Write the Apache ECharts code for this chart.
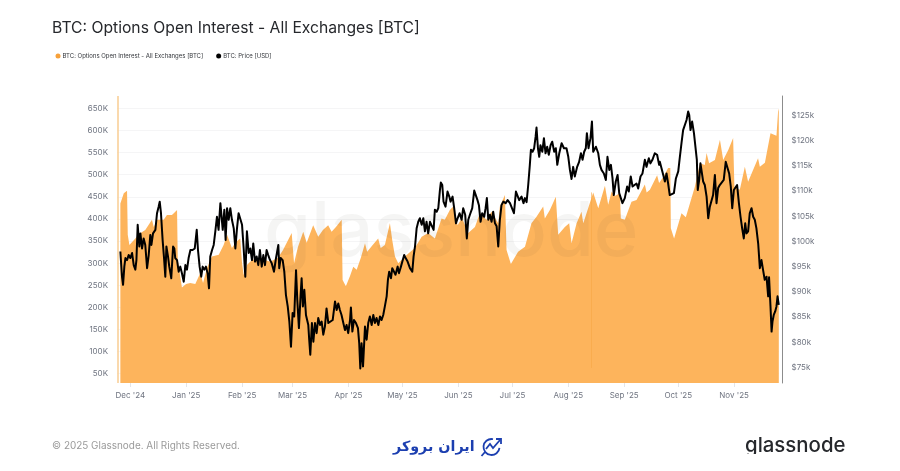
<!DOCTYPE html>
<html><head><meta charset="utf-8">
<script src="https://cdn.jsdelivr.net/npm/echarts@6/dist/echarts.min.js"></script>
<style>html,body{margin:0;padding:0;background:#fff}#c{width:900px;height:471px}</style>
</head><body><div id="c"></div>
<script>
const titleText = "BTC: Options Open Interest - All Exchanges [BTC]";
const oiName = "BTC: Options Open Interest - All Exchanges [BTC]";
const priceName = "BTC: Price [USD]";
const monthDays = [7,38,69,97,128,158,189,219,250,281,311,342];
const monthLabels = ["Dec '24","Jan '25","Feb '25","Mar '25","Apr '25","May '25","Jun '25","Jul '25","Aug '25","Sep '25","Oct '25","Nov '25"];
const oiTicks = [50,100,150,200,250,300,350,400,450,500,550,600,650];
const priceTicks = [75,80,85,90,95,100,105,110,115,120,125];

// days since 24 Nov 2024, open interest in thousands of BTC
const oiDays = [1.3,3.2,5,5.4,6.3,9.6,11.6,15.1,18.8,19.8,21.6,25.3,27.1,29.9,32.7,33.1,35.4,37.7,40,42.8,45.6,47.1,49.3,52,55.8,58.5,60.4,63.1,65.3,67.7,68.7,69.6,71.4,74.2,78.6,84.2,88.6,91.4,96.2,97.5,99.7,102.6,104.5,108.1,110.9,113.5,116.4,118.3,120.7,123.9,124.4,126.2,128.5,130.3,132.2,134.5,136.8,138,140.6,144.1,145.5,147.8,150.6,151.9,153.4,155.2,158.9,164.4,168.2,171.8,175.5,179.2,181,183.8,185.7,188.1,190.5,194,197.7,200.4,204.1,206.9,210.6,211.5,214.3,215.2,217.6,221.6,225.4,229,231.8,235.5,236.4,239.2,242.5,243.8,247.5,249.9,251.2,254,256.7,257.7,260.4,263.2,266,269.7,271.5,273.4,275.2,278,278.5,280.7,284.4,287.2,291.8,292.8,294.6,298.6,299.7,302.3,304.7,305.9,306.2,308,312.1,314.5,319.5,322.3,325,326,327.4,330.6,333.4,335.2,338,340.7,341.4,344.4,347.2,349,354.5,355.5,358.3,361.4,364.7,365.6,366];
const oiValues = [435,458,464,364,341,356,366,375,398,382,398,398,409,409,420,307,245,253,255,253,278,255,289,315,319,341,364,334,348,356,300,273,296,307,312,303,312,330,368,300,337,371,346,386,360,375,386,371,382,398,262,248,271,292,285,312,345,326,339,356,334,341,390,352,315,300,315,334,360,368,356,401,398,420,428,386,402,368,382,413,398,416,390,428,454,330,298,326,337,390,405,428,401,420,450,364,382,390,345,390,416,390,424,460,424,475,432,462,452,458,401,398,439,443,478,460,466,499,481,497,515,515,379,356,413,404,473,526,522,549,526,533,579,533,556,583,473,466,518,484,537,518,527,594,588,643,650];
// thin one-off readings: [day, low, high]
const oiStartSpike = [-0.15,29,678];
const oiGlitch = [261.9,63,460];

// days since 24 Nov 2024, price in thousands of USD
const priceDays = [1.3,2.2,2.8,3.5,4.1,5,5.9,6.8,7.8,8.7,9.6,10.2,10.9,11.8,12.4,13.3,14.2,15.1,16.1,17,17.9,18.5,19.4,20.7,21.6,22.5,23.1,23.8,24.7,25.5,26.2,26.8,27.7,28.4,29.5,30.5,31.2,31.7,32.7,33.6,34.5,35.4,36.4,37.3,38.2,39.1,40.1,41.3,42.5,43.6,44.3,45.2,46.1,46.9,47.8,48.7,49.6,50.4,51.1,52.1,53,53.9,54.8,55.7,56.7,57.2,58,58.9,59.6,60.4,61.3,62.2,63.1,64.1,65,65.9,66.8,67.7,68.7,69.6,70.5,71.4,72.4,73.3,74.2,74.9,75.9,76.8,77.7,78.6,79.6,80.5,81.4,82.3,83.2,84.2,85.1,86.4,87.5,88.8,89.3,90.1,91.2,92.1,93,94,94.9,95.8,96.7,97.6,98.6,99.3,100.2,101.1,101.7,102.4,103.2,104.1,105.4,105.9,106.5,107.4,108.2,109.1,110,110.9,111.9,112.8,113.7,114.6,115.5,116.5,117.4,118.9,120.2,121.1,122,122.9,123.8,124.8,125.7,126.6,127.5,128.5,129,129.8,130.7,131.8,132.9,133.6,134.2,134.9,135.7,136.8,137.7,138.6,139.5,140.5,141.4,142.3,143.2,144.2,145.1,146,146.9,147.8,148.8,149.5,150.2,151.2,151.9,153,153.7,154.9,155.6,156.7,157.4,158.5,159.3,160.4,161.7,163,163.7,164.5,165.4,166.3,167.2,168.2,169.1,170,170.9,171.8,172.8,173.7,174.8,175.5,176.5,177.4,178.3,178.8,179.6,180.3,181.4,182.5,183.5,184.2,185.3,186.2,187.2,188.1,189.2,190.3,191.2,192.3,193.2,194,194.9,196.2,197.3,198.2,199.1,199.9,200.8,201.7,202.8,203.6,204.3,205.1,206,206.9,207.8,208.8,209.7,210.6,211.5,212.4,213.4,214.7,215.8,217.1,218,219.3,220.4,221.1,222.2,223.5,224.6,225.4,226.3,227.2,228.1,228.7,229.6,230.5,231.3,231.8,232.6,233.3,234,235,235.9,236.8,237.7,238.6,239.6,240.5,241.6,242.5,243.3,244.4,245.7,247,248.4,249.4,250.3,251.2,252.1,253,254.3,255.4,256.4,257.3,258.2,259.1,259.7,260.6,261.7,262.5,263.2,264.7,266,266.9,267.8,269.1,270.2,271.1,272.1,273,273.9,274.6,275.7,276.7,277.6,278.5,279.4,280.7,282,282.9,284,285,285.9,287.2,288.1,289.4,290.5,291.8,292.7,294,294.9,296,297.3,298.6,299.7,300.1,301,302,302.9,303.8,304.7,305.6,306.6,307.9,309,310.3,311.2,312.1,313,314,314.9,315.8,316.4,317.1,318,319,319.9,320.6,321.1,321.9,322.6,323.4,324.1,325,326,326.9,327.8,328.7,329.6,330.6,331.5,332.4,333.3,334.2,335.5,336.6,337.6,338.5,339.4,340.2,341.1,342.2,342.9,343.9,344.8,345.7,346.6,347.4,348.1,349,349.9,350.9,351.8,352.7,353.6,354.6,355.5,356.4,357.3,358.2,359.2,360.1,360.6,361.4,362,362.5,363.2,364,364.7,365.3,366];
const priceValues = [98,93,91.4,95,96.7,96.3,97.3,96.7,97.7,95.3,94.4,96.3,103.3,99,101.6,98.6,100.6,99.3,94.7,97.3,101.3,99.3,101.6,102.3,105.6,106.9,107.9,105.6,100.3,96.7,93,99,97,95,92.7,99,98.6,96.7,96.3,94,95,93.7,92,95.3,94.4,96.7,98.3,98.3,98.6,102.3,98.3,95,93,95,94.4,95,93.7,90.7,97,98.3,99.3,102,104.9,102.3,107.6,107.9,102.3,106.3,100.3,106.6,104.3,106.6,104.3,102.6,98.6,102.6,105.6,105.9,103.3,98.6,93,102,97.7,98.6,96.3,99.6,96,97,95.3,98.3,95,97.3,95.3,98.3,97.3,96.3,95.7,94,96.7,99.3,94.7,96.7,96.3,94,89.4,87.1,84.1,79.1,85.8,85.1,94.3,88.4,82.8,89.1,92.7,87.1,90.4,85.4,83.4,80.5,77.5,83.8,80.1,83.8,81.8,84.8,83.4,84.1,81.5,83.1,86.7,83.8,84.1,84.4,88.1,86.4,87.7,86.4,85.4,83.8,82.4,83.4,81.8,84.4,86.9,82.1,84.4,83.8,82.8,79.8,74.8,79.8,75.2,83.1,80.5,83.8,85.1,83.4,85.4,83.8,84.8,83.4,85.1,84.4,85.4,87.1,89.1,92.4,94,92.7,94.7,94.4,93.4,95,93.7,95,95.3,97.3,96.7,96,94.7,94,97,99,102.6,103.9,104.6,103.3,104.6,102,103.9,101.6,103.9,103.6,102.3,106.3,105.9,106.6,110.2,111.7,111.2,107.9,106.9,109.9,108.9,107.9,108.9,106.6,103.6,104.6,105.6,104.3,106.6,105.3,100.6,104.3,105.3,106.6,110.1,110.2,108.2,107.2,103.9,105.6,104.9,106.6,108.6,104.3,105.3,103.9,105.9,103.6,103,99,104.3,107.2,107.9,107.6,108.2,107.6,107.9,105.6,109.9,110.2,108.2,108.9,107.6,108.6,107.8,111.2,115.2,118.2,117.8,118.5,120.8,122.6,118.5,116.8,119.1,117.8,120.5,117.5,118.8,117.2,119.1,119.8,117.8,118.5,115.2,117.5,119.5,118.5,118.5,116.8,114.2,112.4,114.8,112.9,114.8,115.8,117.5,116.2,117.8,118.5,121.5,118.5,120.5,123.8,117.8,118.8,117.5,115.2,114.2,113.5,112.2,116.8,114.2,115.2,112.5,109.2,111.9,113.2,109.6,108.6,107.6,108.6,110.9,109.9,112.9,110.9,110.9,111.5,110.5,112.9,113.5,116.2,114.8,116.5,115.5,116.2,117.5,117.2,115.2,115.8,115.5,113.2,111.9,113.5,111.5,109.2,109.2,109.6,112.5,113.9,116.8,119.5,122.1,121.8,124.1,125.8,125.1,122.1,123.8,121.5,121.8,116.2,110.2,112.2,115.5,115.8,111.9,111.2,108.9,104.6,106.9,106.9,109.2,113.2,107.6,110.6,111.2,111.5,112.2,115.8,115.5,113.5,110.9,106.6,110.2,109.9,111.2,107.6,104.9,102.6,100.6,103.6,101.6,102,105.6,106.6,104.9,104.3,102.6,99.5,94.7,96.3,94.3,92.4,93,89.1,92.9,87.1,82.1,84.1,85.4,86.1,87.1,89.1,87.4];

const dayPos = d => d*1.0017+0.17;
const pair = (days, vals) => days.map((d,i) => [dayPos(d), vals[i]]);
const spikeLine = (s, style) => [{coord:[dayPos(s[0]),s[1]],lineStyle:style},{coord:[dayPos(s[0]),s[2]]}];
const font = "Inter";
const labelColor = "#6f7480";
const blue = '#1c3fb0';

const chart = echarts.init(document.getElementById('c'), null, {renderer:'canvas'});
chart.setOption({
  animation:false, backgroundColor:'#fff',
  title:{text:titleText,left:52,top:20,padding:0,textStyle:{fontFamily:font,fontSize:15.7,fontWeight:400,color:'#26282c'}},
  legend:{left:55.5,top:53,icon:'circle',itemWidth:5,itemHeight:5,itemGap:13,padding:0,
    textStyle:{fontFamily:font,fontSize:6,color:'#33363b',padding:[0,0,0,-3]},
    data:[oiName,priceName]},
  grid:{left:117,width:662,top:96,height:287},
  xAxis:{type:'value',min:-0.39,max:366.9,
    axisLine:{show:false},splitLine:{show:false},
    axisTick:{show:true,length:4,customValues:monthDays,lineStyle:{color:'#e4e5e8',width:1}},
    axisLabel:{customValues:monthDays,showMinLabel:true,showMaxLabel:true,margin:9,
      fontFamily:font,fontSize:8,color:labelColor,
      formatter:v=>monthLabels[monthDays.indexOf(v)]||''}},
  yAxis:[
   {type:'value',min:29,max:678,position:'left',
    axisLine:{show:false},axisTick:{show:false,customValues:oiTicks},
    splitLine:{show:true,lineStyle:{color:'#f5f5f6',width:1}},
    axisLabel:{customValues:oiTicks,margin:9,fontFamily:font,fontSize:8,color:labelColor,formatter:v=>v+'K'}},
   {type:'value',min:71.9,max:128.87,position:'right',offset:3,
    axisLine:{show:true,lineStyle:{color:'#8c8c8c',width:1}},axisTick:{show:false,customValues:priceTicks},
    splitLine:{show:false},
    axisLabel:{customValues:priceTicks,margin:9.5,fontFamily:font,fontSize:8,color:labelColor,formatter:v=>'$'+v+'k'}}],
  series:[
   {name:oiName,type:'line',z:2,yAxisIndex:0,data:pair(oiDays,oiValues),showSymbol:false,
    lineStyle:{width:0},itemStyle:{color:'#f7a13a'},areaStyle:{color:'#fdb45c',opacity:1},
    markLine:{silent:true,symbol:'none',label:{show:false},lineStyle:{type:'solid'},
      data:[spikeLine(oiGlitch,{color:'#f6a645',width:0.6,type:'solid'}),
            spikeLine(oiStartSpike,{color:'#f9cd92',width:1.5,type:'solid'})]}},
   {name:priceName,type:'line',z:5,yAxisIndex:1,data:pair(priceDays,priceValues),showSymbol:false,
    lineStyle:{width:2,color:'#000',join:'round'},itemStyle:{color:'#000'}}
  ],
  graphic:[
   {type:'text',z:3,silent:true,style:{x:264,y:195,text:'glassnode',fontFamily:font,fontSize:76,fontWeight:500,fill:'rgba(60,50,40,0.05)'}},
   {type:'text',style:{x:52,y:441.5,text:'© 2025 Glassnode. All Rights Reserved.',fontFamily:font,fontSize:9.95,fill:'#9a9a9a'}},
   {type:'text',style:{x:393,y:440,text:'ایران بروکر',fontFamily:'DejaVu Sans',fontWeight:'bold',fontSize:14.3,fill:blue}},
   {type:'arc',shape:{cx:491.5,cy:447,r:8,startAngle:0.1,endAngle:4.9},style:{stroke:blue,lineWidth:1.8,fill:'none'}},
   {type:'polyline',shape:{points:[[486,449],[490,444],[493,448],[500,440]]},style:{stroke:blue,lineWidth:1.8,fill:'none'}},
   {type:'polyline',shape:{points:[[496,439],[501,439],[501,444]]},style:{stroke:blue,lineWidth:1.8,fill:'none'}},
   {type:'polyline',shape:{points:[[481.5,456],[485,452]]},style:{stroke:blue,lineWidth:1.8,fill:'none'}},
   {type:'text',style:{x:745,y:435.5,text:'glassnode',fontFamily:font,fontWeight:500,fontSize:20.4,fill:'#26282c'}},
   {type:'rect',shape:{x:740,y:454,width:110,height:10},style:{fill:'#fff'}}
  ]
});
</script></body></html>
